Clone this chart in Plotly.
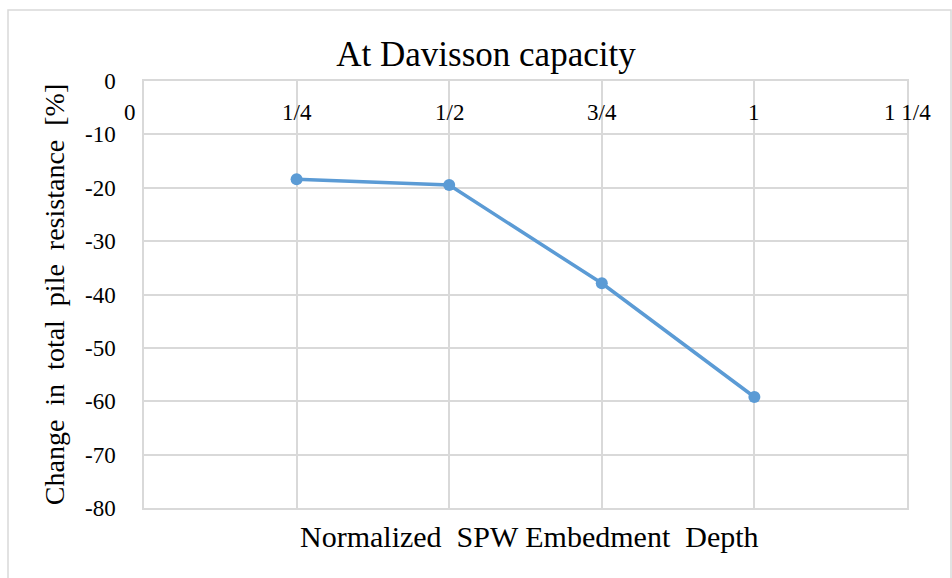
import plotly.graph_objects as go

depth = [0.25, 0.5, 0.75, 1.0]
change = [-18.4, -19.5, -37.9, -59.2]
x_tickvals = [0, 0.25, 0.5, 0.75, 1.0, 1.25]
x_ticktext = ["0", "1/4", "1/2", "3/4", "1", "1 1/4"]
y_tickvals = [0, -10, -20, -30, -40, -50, -60, -70, -80]
y_ticktext = ["0", "-10", "-20", "-30", "-40", "-50", "-60", "-70", "-80"]

W, H = 952, 578
L, R, T, B = 144, 45, 81, 70
FONT = "Liberation Serif, Times New Roman, serif"
GRID = "#D9D9D9"

pw, ph = W - L - R, H - T - B


def px_x(p):
    return (p - L) / pw


def px_y(p):
    return 1 - (p - T) / ph


fig = go.Figure()
fig.add_trace(go.Scatter(
    x=depth, y=change, mode="lines+markers",
    line=dict(color="#5B9BD5", width=3.5),
    marker=dict(color="#5B9BD5", size=12),
    showlegend=False, cliponaxis=False,
))

# outer chart border
fig.add_shape(type="rect", xref="paper", yref="paper",
              x0=px_x(8), x1=px_x(951), y0=px_y(585), y1=px_y(10),
              line=dict(color=GRID, width=1.5), layer="below")

# x tick labels sit just below the top axis line (axis crosses at 0)
for v, t in zip(x_tickvals, x_ticktext):
    first = v == x_tickvals[0]
    fig.add_annotation(x=v, xref="x", y=px_y(113), yref="paper", text=t,
                       showarrow=False, yanchor="middle",
                       xanchor="right" if first else "center",
                       xshift=-6 if first else 0,
                       font=dict(size=23, family=FONT, color="#000000"))

fig.update_layout(
    width=W, height=H,
    margin=dict(l=L, r=R, t=T, b=B),
    paper_bgcolor="white", plot_bgcolor="white",
    font=dict(family=FONT, color="#000000", size=23),
    title=dict(text="At Davisson capacity", x=(486 / W), xanchor="center",
               y=1 - 54 / H, yanchor="middle", font=dict(size=35, family=FONT)),
    xaxis=dict(range=[0, 1.25], tickvals=x_tickvals, showticklabels=False,
               ticks="", showgrid=True, gridcolor=GRID, gridwidth=1.5,
               zeroline=False, showline=True, mirror=True, linecolor=GRID,
               linewidth=1.5),
    yaxis=dict(range=[-80, 0], tickvals=y_tickvals, ticktext=y_ticktext,
               ticks="", ticklabelstandoff=22, showgrid=True,
               gridcolor=GRID, gridwidth=1.5, zeroline=False,
               showline=True, mirror=True, linecolor=GRID, linewidth=1.5,
               tickfont=dict(size=23, family=FONT),
               title=dict(text="Change  in  total  pile  resistance  [%]",
                          font=dict(size=28, family=FONT), standoff=12)),
)
fig.add_annotation(text="Normalized  SPW Embedment  Depth", xref="paper", yref="paper",
                   x=px_x(529), y=px_y(536), yanchor="middle", showarrow=False,
                   font=dict(size=30, family=FONT, color="#000000"))

fig.write_html("out.html", config={"displayModeBar": False},
               post_script="document.body.style.margin='0';")
